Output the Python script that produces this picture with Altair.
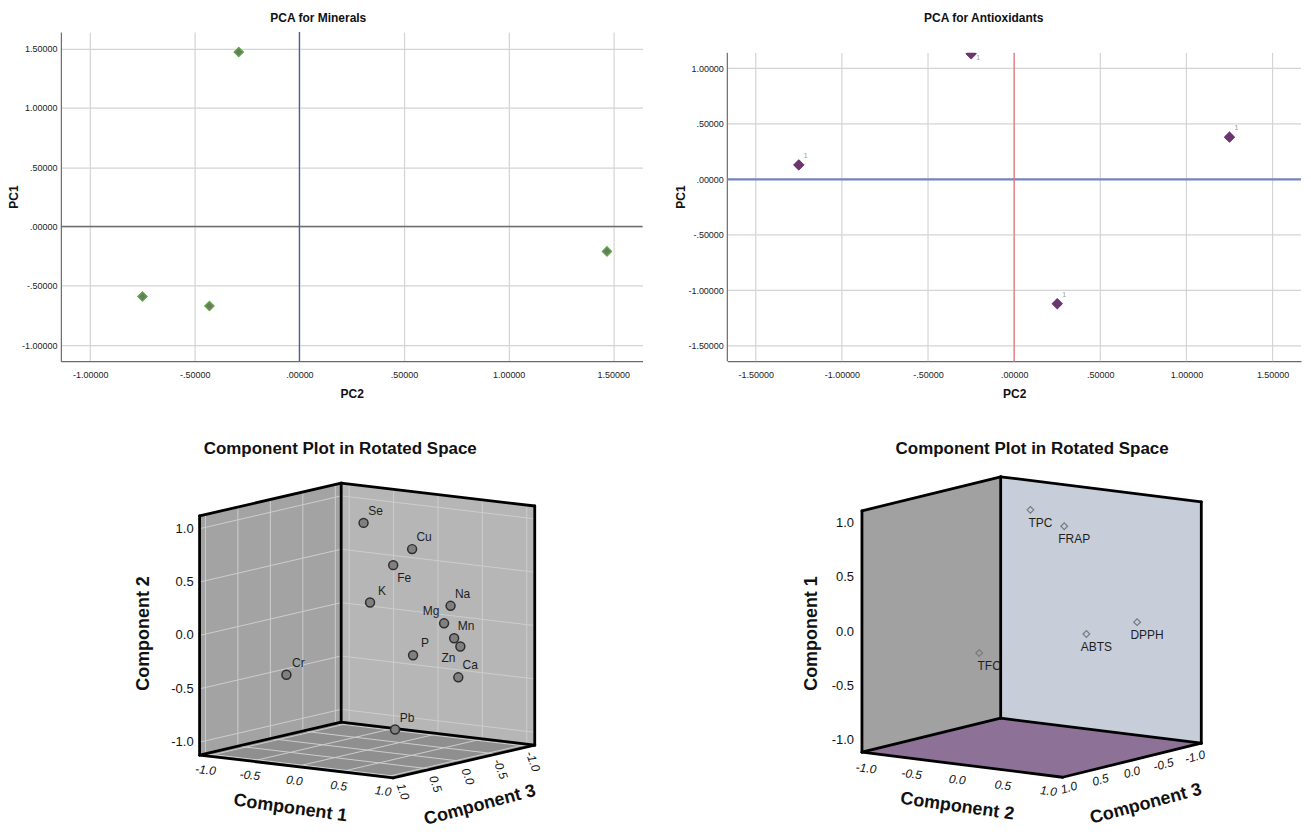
import altair as alt
import numpy as np
import pandas as pd

# ---------------- values ----------------
# PCA for Minerals (scores)
min_pc2 = [-0.29, -0.75, -0.43, 1.47]
min_pc1 = [1.47, -0.59, -0.67, -0.21]
min_ticks = [-1.0, -0.5, 0.0, 0.5, 1.0, 1.5]

# PCA for Antioxidants (scores)
ant_pc2 = [-0.25, -1.25, 1.25, 0.25]
ant_pc1 = [1.13, 0.13, 0.38, -1.12]
ant_tag = ["1", "1", "1", "1"]
ant_xticks = [-1.5, -1.0, -0.5, 0.0, 0.5, 1.0, 1.5]
ant_yticks = [-1.5, -1.0, -0.5, 0.0, 0.5, 1.0]
ant_xrange = [-1.665, 1.665]
ant_yrange = [-1.637, 1.139]

# Component plot in rotated space (minerals): loadings
mineral = ["Se", "Cu", "Fe", "K", "Na", "Mg", "Mn", "Zn", "P", "Ca", "Cr", "Pb"]
mineral_c1 = [-0.26, 0.36, 0.22, -0.26, 0.72, 0.72, 0.76, 0.83, 0.59, 0.88, -0.69, 0.68]
mineral_c2 = [0.94, 0.77, 0.62, 0.18, 0.26, 0.11, -0.04, -0.11, -0.16, -0.38, -0.44, -0.79]
mineral_c3 = [-0.30, -0.20, -0.10, -0.40, -0.30, -0.20, -0.30, -0.30, 0.10, -0.20, 0.30, 0.50]

# Component plot in rotated space (antioxidants): loadings
antiox = ["TPC", "FRAP", "DPPH", "ABTS", "TFC"]
antiox_c1 = [0.99, 0.90, 0.08, 0.02, -0.17]
antiox_c2 = [-0.29, 0.15, 0.88, 0.67, -0.16]
antiox_c3 = [-0.40, -0.30, -0.40, 0.10, 0.60]

cube_ticks = [-1.0, -0.5, 0.0, 0.5, 1.0]
cube_tick_text = ["-1.0", "-0.5", "0.0", "0.5", "1.0"]

# ---------------- label placement (style) ----------------
ant_tag_place = ["below", "above", "above", "above"]
mineral_label_place = ["ur", "ur", "lr", "ur", "ur", "ul", "ur", "ll", "ur", "ur", "ur", "ur"]

FONT = "Liberation Sans"
SPSS_LABEL = ("(datum.value < 0 ? '-' : '') + (abs(datum.value) < 1 ? "
              "substring(format(abs(datum.value), '.5f'), 1) : format(abs(datum.value), '.5f'))")
GRID = "#d4d4d4"
AXIS_LINE = "#6b6b6b"


def x_axis(title, values, grid=True):
    return alt.Axis(title=title, values=values, labelExpr=SPSS_LABEL, grid=grid,
                    gridColor=GRID, gridWidth=1.2, ticks=False, domainColor=AXIS_LINE,
                    domainWidth=1.2, labelFont=FONT, labelFontSize=9, labelColor="#222222",
                    labelPadding=9, labelFlush=False, minExtent=21, maxExtent=21,
                    titleFont=FONT, titleFontSize=12, titleFontWeight="bold",
                    titleColor="#111111", titlePadding=6)


def y_axis(title, values, grid=True, domain=True):
    return alt.Axis(title=title, values=values, labelExpr=SPSS_LABEL, grid=grid, domain=domain,
                    gridColor=GRID, gridWidth=1.2, ticks=False, domainColor=AXIS_LINE,
                    domainWidth=1.2, labelFont=FONT, labelFontSize=9, labelColor="#222222",
                    labelPadding=4, labelFlush=False, minExtent=40, maxExtent=40,
                    titleFont=FONT, titleFontSize=12, titleFontWeight="bold",
                    titleColor="#111111", titlePadding=0)


def top_title(text, cx):
    return alt.Chart(pd.DataFrame({"t": [text]})).mark_text(
        font=FONT, fontSize=12, fontWeight="bold", color="#111111", align="center",
        baseline="middle").encode(x=alt.value(cx), y=alt.value(-14), text="t:N")


one = pd.DataFrame({"z": [0.0]})
TOP_H = 330

# ---------------- top-left: PCA for Minerals ----------------
tl_df = pd.DataFrame({"PC2": min_pc2, "PC1": min_pc1})
tl_xs = alt.Scale(domain=[-1.14, 1.64], nice=False, zero=False)
tl_ys = alt.Scale(domain=[-1.135, 1.64], nice=False, zero=False)
tl_x = alt.X("PC2:Q", scale=tl_xs, axis=x_axis("PC2", min_ticks))
tl_y = alt.Y("PC1:Q", scale=tl_ys, axis=y_axis("PC1", min_ticks))
tl_h = alt.Chart(one).mark_rule(color="#6e6e6e", strokeWidth=1.6).encode(y=alt.datum(0, scale=tl_ys))
tl_v = alt.Chart(one).mark_rule(color="#4a5ba6", strokeWidth=1.3).encode(x=alt.datum(0, scale=tl_xs))
tl_pts = alt.Chart(tl_df).mark_point(shape="diamond", filled=True, size=80, fill="#687a5f",
                                     stroke="#5faa46", strokeWidth=1.2, opacity=1).encode(x=tl_x, y=tl_y)
tl = alt.layer(tl_pts, tl_h, tl_v, tl_pts, top_title("PCA for Minerals", 258)).properties(
    width=583, height=TOP_H)

# ---------------- top-right: PCA for Antioxidants ----------------
# its frame is shorter than the left one: the scale reaches higher than the frame top
TR_PLOT_H = 309
tr_top = ant_yrange[1] + (TOP_H - TR_PLOT_H) * (ant_yrange[1] - ant_yrange[0]) / TR_PLOT_H
tr_df = pd.DataFrame({"PC2": ant_pc2, "PC1": ant_pc1, "tag": ant_tag, "place": ant_tag_place})
tr_xs = alt.Scale(domain=ant_xrange, nice=False, zero=False)
tr_ys = alt.Scale(domain=[ant_yrange[0], tr_top], nice=False, zero=False)
tr_xaxis = x_axis("PC2", ant_xticks, grid=False)
tr_yaxis = y_axis("PC1", ant_yticks, grid=False, domain=False)
tr_x = alt.X("PC2:Q", scale=tr_xs, axis=tr_xaxis)
tr_y = alt.Y("PC1:Q", scale=tr_ys, axis=tr_yaxis)

hgrid_df = pd.DataFrame({"PC1": ant_yticks})
vgrid_df = pd.DataFrame({"PC2": ant_xticks})
tr_hgrid = alt.Chart(hgrid_df).mark_rule(color=GRID, strokeWidth=1.2).encode(y=tr_y)
tr_vgrid = alt.Chart(vgrid_df).mark_rule(color=GRID, strokeWidth=1.2).encode(
    x=tr_x, y=alt.datum(ant_yrange[0]), y2=alt.datum(ant_yrange[1]))
tr_yline = alt.Chart(one).mark_rule(color=AXIS_LINE, strokeWidth=1.2).encode(
    x=alt.datum(ant_xrange[0]), y=alt.datum(ant_yrange[0]), y2=alt.datum(ant_yrange[1]))
tr_h = alt.Chart(one).mark_rule(color="#7484c2", strokeWidth=2.4).encode(y=alt.datum(0, scale=tr_ys))
tr_v = alt.Chart(one).mark_rule(color="#e8747a", strokeWidth=1.2).encode(
    x=alt.datum(0, scale=tr_xs), y=alt.datum(ant_yrange[0]), y2=alt.datum(ant_yrange[1]))
tr_pts = alt.Chart(tr_df).mark_point(shape="diamond", filled=True, size=110, fill="#6b3670",
                                     stroke="#6b3670", strokeWidth=0.5, opacity=1, clip=True).encode(
    x=tr_x, y=tr_y)
tr_mask = alt.Chart(one).mark_rect(color="white", opacity=1).encode(
    y=alt.datum(ant_yrange[1]), y2=alt.datum(tr_top))
tr_tag_a = alt.Chart(tr_df).transform_filter(alt.datum.place == "above").mark_text(
    font=FONT, fontSize=7, color="#9a9a9a", dx=7, dy=-9, clip=True).encode(x=tr_x, y=tr_y, text="tag:N")
tr_tag_b = alt.Chart(tr_df).transform_filter(alt.datum.place == "below").mark_text(
    font=FONT, fontSize=7, color="#9a9a9a", dx=7, dy=4, clip=True).encode(x=tr_x, y=tr_y, text="tag:N")
tr = alt.layer(tr_pts, tr_hgrid, tr_vgrid, tr_yline, tr_h, tr_v, tr_pts, tr_mask,
               tr_tag_a, tr_tag_b, top_title("PCA for Antioxidants", 257)).properties(
    width=575, height=TOP_H)


# ---------------- 3D component plots (oblique projection) ----------------
def cube_panel(P, names, h_val, v_val, d_val, places, offsets, marker, titles):
    ox, oy = P["origin"]
    ax, ay = P["e_h"]
    bx, by = P["e_d"]
    ev, H, V = P["ev"], P["H"], P["V"]

    def proj(hh, vv, dd):
        return ox + ax * hh + bx * dd, oy + ay * hh + by * dd - ev * vv

    XS = alt.Scale(domain=list(P["xdom"]), nice=False, zero=False)
    YS = alt.Scale(domain=list(P["ydom"]), nice=False, zero=False, reverse=True)
    X = lambda f: alt.X(f + ":Q", scale=XS, axis=None)
    Y = lambda f: alt.Y(f + ":Q", scale=YS, axis=None)

    def wall(pa, pb):
        rows = []
        for hh, dd in (pa, pb):
            xb, yb = proj(hh, -V, dd)
            _, yt = proj(hh, V, dd)
            rows.append({"x": xb, "y": yb, "y2": yt})
        return pd.DataFrame(rows)

    Lc, Bc, Rc, Fc = proj(-H, -V, H), proj(-H, -V, -H), proj(H, -V, -H), proj(H, -V, H)
    xs = sorted([Lc[0], Bc[0], Rc[0], Fc[0]])
    upper = np.interp(xs, [Lc[0], Bc[0], Rc[0]], [Lc[1], Bc[1], Rc[1]])
    lower = np.interp(xs, [Lc[0], Fc[0], Rc[0]], [Lc[1], Fc[1], Rc[1]])
    floor = pd.DataFrame({"x": xs, "y": lower, "y2": upper})

    def area(df, color):
        return alt.Chart(df).mark_area(color=color, opacity=1).encode(x=X("x"), y=Y("y"), y2="y2:Q")

    def segs(pairs):
        rows = []
        for a, b in pairs:
            (x1, y1), (x2, y2) = proj(*a), proj(*b)
            rows.append({"x": x1, "y": y1, "x2": x2, "y2": y2})
        return pd.DataFrame(rows)

    def rules(df, color, width, cap="butt"):
        return alt.Chart(df).mark_rule(color=color, strokeWidth=width, strokeCap=cap).encode(
            x=X("x"), y=Y("y"), x2="x2:Q", y2="y2:Q")

    layers = [area(wall((-H, H), (-H, -H)), P["left_wall"]),
              area(wall((-H, -H), (H, -H)), P["right_wall"]),
              area(floor, P["floor"])]

    if P.get("grid"):
        g = []
        for t in cube_ticks:
            g += [((-H, t, H), (-H, t, -H)), ((-H, -V, t), (-H, V, t)),
                  ((-H, t, -H), (H, t, -H)), ((t, -V, -H), (t, V, -H)),
                  ((t, -V, H), (t, -V, -H)), ((-H, -V, t), (H, -V, t))]
        layers.append(rules(segs(g), P["grid"], 1.0))

    edges = [((-H, -V, H), (-H, V, H)), ((-H, -V, -H), (-H, V, -H)), ((H, -V, -H), (H, V, -H)),
             ((-H, V, H), (-H, V, -H)), ((-H, V, -H), (H, V, -H)),
             ((-H, -V, H), (H, -V, H)), ((H, -V, H), (H, -V, -H)),
             ((-H, -V, H), (-H, -V, -H)), ((-H, -V, -H), (H, -V, -H))]
    layers.append(rules(segs(edges), "#000000", 2.8, "round"))

    def tick_df(fn, off):
        rows = []
        for t, s in zip(cube_ticks, cube_tick_text):
            x, y = fn(t)
            rows.append({"x": x + off[0], "y": y + off[1], "t": s})
        return pd.DataFrame(rows)

    vt = tick_df(lambda t: proj(-H, t, H), offsets["v_lab"])
    ht = tick_df(lambda t: proj(t, -V, H), offsets["h_lab"])
    dt = tick_df(lambda t: proj(H, -V, t), offsets["d_lab"])
    layers.append(alt.Chart(vt).mark_text(font=FONT, fontSize=13, color="#111111", align="right",
                                          baseline="middle").encode(x=X("x"), y=Y("y"), text="t:N"))
    layers.append(alt.Chart(ht).mark_text(font=FONT, fontSize=12, fontStyle="italic", color="#111111",
                                          align="center", baseline="middle",
                                          angle=offsets["h_ang"]).encode(x=X("x"), y=Y("y"), text="t:N"))
    layers.append(alt.Chart(dt).mark_text(font=FONT, fontSize=12, fontStyle="italic", color="#111111",
                                          align="center", baseline="middle",
                                          angle=offsets["d_ang"]).encode(x=X("x"), y=Y("y"), text="t:N"))

    for anchor3d, off, ang, txt in (((-H, 0, H), offsets["v_tit"], 270, titles[0]),
                                    ((0, -V, H), offsets["h_tit"], offsets["h_tit_ang"], titles[1]),
                                    ((H, -V, 0), offsets["d_tit"], offsets["d_tit_ang"], titles[2])):
        x, y = proj(*anchor3d)
        tdf = pd.DataFrame({"x": [x + off[0]], "y": [y + off[1]], "t": [txt]})
        layers.append(alt.Chart(tdf).mark_text(font=FONT, fontSize=18, fontWeight="bold", color="#111111",
                                               align="center", baseline="middle", angle=ang).encode(
            x=X("x"), y=Y("y"), text="t:N"))

    px, py = [], []
    for hh, vv, dd in zip(h_val, v_val, d_val):
        a, b = proj(hh, vv, dd)
        px.append(a)
        py.append(b)
    pdf = pd.DataFrame({"x": px, "y": py, "name": names, "place": places})
    layers.append(alt.Chart(pdf).mark_point(**marker).encode(x=X("x"), y=Y("y")))
    for place, (ddx, ddy) in offsets["pt_lab"].items():
        layers.append(alt.Chart(pdf).transform_filter(alt.datum.place == place).mark_text(
            font=FONT, fontSize=12, color="#1e1e1e", align="center", baseline="middle",
            dx=ddx, dy=ddy).encode(x=X("x"), y=Y("y"), text="name:N"))

    w = P["xdom"][1] - P["xdom"][0]
    hgt = P["ydom"][1] - P["ydom"][0]
    return alt.layer(*layers).properties(
        width=w, height=hgt,
        title=alt.TitleParams("Component Plot in Rotated Space", font=FONT, fontSize=17,
                              fontWeight="bold", color="#111111", anchor="middle",
                              dx=P["title_dx"], offset=16))


# the bottom row starts where the top-left plot frame starts (x = 60 on the page)
left_P = dict(origin=(367, 627), e_h=(89.0, 10.55), e_d=(-65.1, 15.1), ev=107.0, H=1.09, V=1.12,
              xdom=(60, 660), ydom=(470, 825), left_wall="#a3a3a3", right_wall="#b6b6b6",
              floor="#8f8f8f", grid="#cdcdcd", title_dx=-20)
left_off = dict(v_lab=(-6, 0), h_lab=(-2, 14), d_lab=(4, 15), h_ang=7, d_ang=70,
                v_tit=(-56, -2), h_tit=(-6, 42), h_tit_ang=8, d_tit=(16, 44), d_tit_ang=345,
                pt_lab={"ur": (12, -12), "lr": (11, 13), "ul": (-13, -12), "ll": (-12, 12)})
bl = cube_panel(left_P, mineral, mineral_c1, mineral_c2, mineral_c3, mineral_label_place, left_off,
                dict(shape="circle", filled=True, size=80, fill="#808080", stroke="#2e2e2e",
                     strokeWidth=1.5, opacity=1),
                ("Component 2", "Component 1", "Component 3"))

right_P = dict(origin=(1033, 623.5), e_h=(91.4, 11.4), e_d=(-63.2, 15.5), ev=109.0, H=1.1, V=1.11,
               xdom=(660, 1303), ydom=(470, 825), left_wall="#a1a1a1", right_wall="#c7ceda",
               floor="#8d7197", grid=None, title_dx=52)
right_off = dict(v_lab=(-8, 0), h_lab=(-5, 15), d_lab=(0, 12), h_ang=7, d_ang=345,
                 v_tit=(-50, 2), h_tit=(-5, 42), h_tit_ang=8, d_tit=(14, 44), d_tit_ang=345,
                 pt_lab={"lr": (10, 13)})
br = cube_panel(right_P, antiox, antiox_c2, antiox_c1, antiox_c3, ["lr"] * len(antiox), right_off,
                dict(shape="diamond", filled=False, size=45, stroke="#7a7a7a", strokeWidth=1.2,
                     opacity=1),
                ("Component 1", "Component 2", "Component 3"))

top = alt.hconcat(tl, tr, spacing=31)
bottom = alt.hconcat(bl, br, spacing=0)
chart = alt.vconcat(top, bottom, spacing=41).properties(
    padding={"top": 3, "left": 0, "right": 0, "bottom": 0}).configure_view(stroke=None)

chart.save("out.html", embed_options={"renderer": "svg", "actions": False})
